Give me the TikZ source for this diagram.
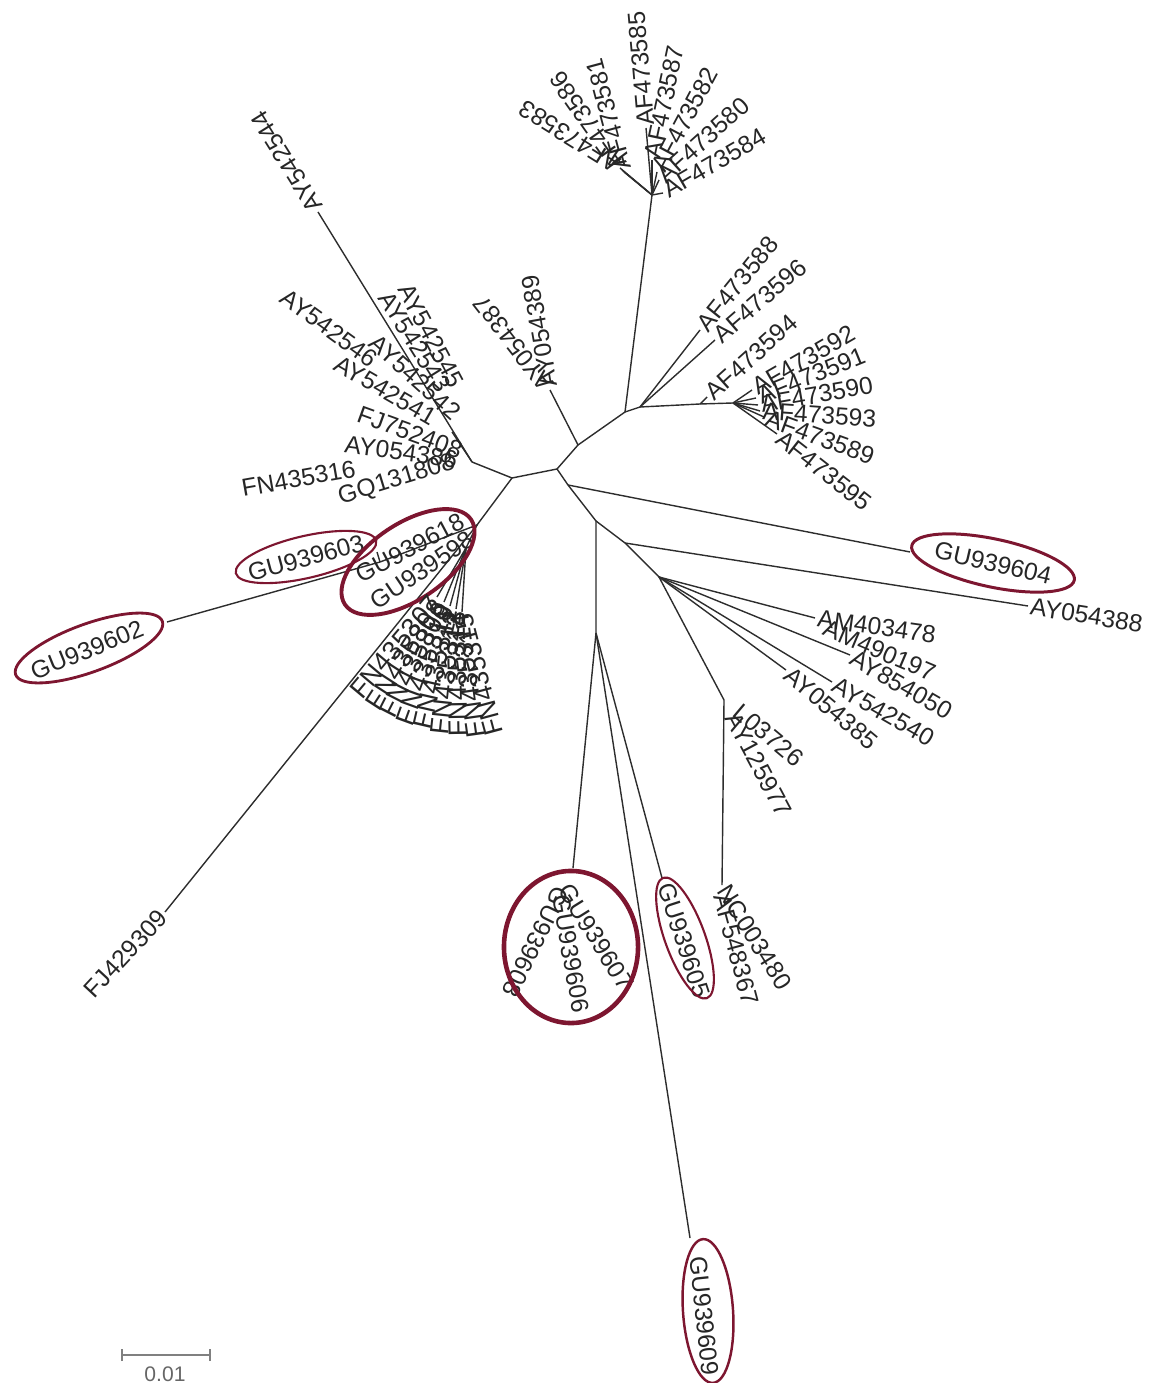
\documentclass[tikz,border=0pt]{standalone}
\usepackage{fontspec}
\setmainfont{Liberation Sans}
\usepackage{tikz}
\definecolor{wine}{RGB}{125,22,48}
\definecolor{treeline}{RGB}{45,45,45}
\tikzset{br/.style={draw=treeline,line width=0.4pt},
         lab/.style={font=\fontsize{7}{8}\selectfont,inner sep=0.6pt,text=black!85},
         fan/.style={lab,font=\fontsize{7.6}{8}\selectfont},
         ring/.style={draw=wine}}

\begin{document}
\begin{tikzpicture}[x=0.01cm,y=-0.01cm]
\useasboundingbox(0,0)rectangle(1158,1383);
%internal nodes
\coordinate(nA)at(557,469);\coordinate(nB)at(512,478);\coordinate(nC)at(578,445);
\coordinate(nD)at(625,412);\coordinate(nE)at(640,407);\coordinate(nF)at(700,404);
\coordinate(nG)at(733,403);\coordinate(nH)at(652,195);\coordinate(nK)at(568,485);
\coordinate(nJ)at(596,521);\coordinate(nM)at(625,543);\coordinate(nN)at(659,577);
\coordinate(nO)at(724,700);\coordinate(nL)at(596,633);\coordinate(nQ)at(472,462);
\coordinate(nS)at(452,432);\coordinate(nR)at(477,525);\coordinate(nT)at(380,562);
\coordinate(nU)at(466,548);
%leaves
\coordinate(l583)at(620,168);\coordinate(l586)at(622,170);\coordinate(l581)at(624,172);
\coordinate(l585)at(646,128);\coordinate(l587)at(652,160);\coordinate(l582)at(657,172);
\coordinate(l580)at(659,180);\coordinate(l584)at(663,193);
\coordinate(l588)at(700,330);\coordinate(l596)at(715,340);\coordinate(l594)at(707,397);
\coordinate(l592)at(752,390);\coordinate(l591)at(756,398);\coordinate(l590)at(758,405);
\coordinate(l593)at(760,411);\coordinate(l589)at(764,417);\coordinate(l595)at(777,434);
\coordinate(l389)at(550,390);
\coordinate(l604)at(910,552);\coordinate(l388)at(1028,606);\coordinate(l478)at(815,618);
\coordinate(l197)at(822,626);\coordinate(l050)at(850,655);\coordinate(l540)at(832,682);
\coordinate(l385)at(786,670);\coordinate(l726)at(735,707);\coordinate(l977)at(731,712);
\coordinate(l480)at(722,885);
\coordinate(l608)at(573,868);\coordinate(l605)at(662,878);\coordinate(l609)at(690,1238);
\coordinate(l309)at(165,912);\coordinate(l602)at(167,622);\coordinate(l603)at(377,552);
\coordinate(l544)at(318,212);
\coordinate(f1)at(437,597);\coordinate(f2)at(441,600);\coordinate(f3)at(444,602);
\coordinate(f4)at(447,604);\coordinate(f5)at(450,606);\coordinate(f6)at(453,608);
\coordinate(f7)at(456,609);\coordinate(f8)at(459,611);\coordinate(f9)at(462,612);
%branches
\draw[br](nQ)--(nB)--(nA)--(nC)--(nD)--(nH);
\draw[br](nD)--(nE)--(nF)--(nG);
\draw[br](nE)--(l588);\draw[br](nE)--(l596);\draw[br](nF)--(l594);
\draw[br](nG)--(l592);\draw[br](nG)--(l591);\draw[br](nG)--(l590);
\draw[br](nG)--(l593);\draw[br](nG)--(l589);\draw[br](nG)--(l595);
\draw[br](nH)--(l583);\draw[br](nH)--(l586);\draw[br](nH)--(l581);\draw[br](nH)--(l585);
\draw[br](nH)--(l587);\draw[br](nH)--(l582);\draw[br](nH)--(l580);\draw[br](nH)--(l584);
\draw[br](nC)--(l389);
\draw[br](nA)--(nK)--(nJ)--(nL);
\draw[br](nK)--(l604);
\draw[br](nJ)--(nM)--(nN)--(nO)--(l480);
\draw[br](nM)--(l388);
\draw[br](nN)--(l478);\draw[br](nN)--(l050);\draw[br](nN)--(l540);\draw[br](nN)--(l385);
\draw[br](nL)--(l608);\draw[br](nL)--(l605);\draw[br](nL)--(l609);
\draw[br](nB)--(nR)--(l309);
\draw[br](nR)--(nT)--(l602);\draw[br](nT)--(l603);
\draw[br](nR)--(nU);
\draw[br](nU)--(f1);\draw[br](nU)--(f3);\draw[br](nU)--(f5);\draw[br](nU)--(f7);\draw[br](nU)--(f9);
\draw[br](nQ)--(l544);\draw[br](nQ)--(nS);
%top cluster labels
\node[lab,anchor=west,rotate=148](t583)at(l583){AF473583};
\node[lab,anchor=west,rotate=125](t586)at(l586){AF473586};
\node[lab,anchor=west,rotate=105](t581)at(l581){AF473581};
\node[lab,anchor=west,rotate=95](t585)at(l585){AF473585};
\node[lab,anchor=west,rotate=78](t587)at(l587){AF473587};
\node[lab,anchor=west,rotate=62](t582)at(l582){AF473582};
\node[lab,anchor=west,rotate=42](t580)at(l580){AF473580};
\node[lab,anchor=west,rotate=30](t584)at(l584){AF473584};
%right cluster labels
\node[lab,anchor=west,rotate=51](t588)at(l588){AF473588};
\node[lab,anchor=west,rotate=41](t596)at(l596){AF473596};
\node[lab,anchor=west,rotate=42](t594)at(l594){AF473594};
\node[lab,anchor=west,rotate=30](t592)at(l592){AF473592};
\node[lab,anchor=west,rotate=22](t591)at(l591){AF473591};
\node[lab,anchor=west,rotate=10](t590)at(l590){AF473590};
\node[lab,anchor=west,rotate=-4](t593)at(l593){AF473593};
\node[lab,anchor=west,rotate=-20](t589)at(l589){AF473589};
\node[lab,anchor=west,rotate=-38](t595)at(l595){AF473595};
\node[lab,anchor=west,rotate=100](t389)at(l389){AY054389};
\node[lab,anchor=west,rotate=128](t387)at(l389){AY054387};
%lower right labels
\node[lab,rotate=-13](t604)at(993,563){GU939604};
\draw[ring,line width=0.85pt,rotate around={-12:(993,563)}](993,563)ellipse[x radius=8.3mm,y radius=2.4mm];
\node[lab,anchor=west,rotate=-9](t388)at(l388){AY054388};
\node[lab,anchor=west,rotate=-8](t478)at(l478){AM403478};
\node[lab,anchor=west,rotate=-23](t197)at(l197){AM490197};
\node[lab,anchor=west,rotate=-30](t050)at(l050){AY854050};
\node[lab,anchor=west,rotate=-30](t540)at(l540){AY542540};
\node[lab,anchor=west,rotate=-40](t385)at(l385){AY054385};
\node[lab,anchor=west,rotate=-40](t726)at(l726){L03726};
\node[lab,anchor=west,rotate=-62](t977)at(l977){AY125977};
\node[lab,anchor=west,rotate=-58](t480)at(l480){NC003480};
\node[lab,anchor=west,rotate=-75](t367)at(721,892){AF548367};
%bottom labels
\node[lab,anchor=west,rotate=-58](t607)at(563,884){GU939607};
\node[lab,anchor=west,rotate=-80](t606)at(560,892){GU939606};
\node[lab,anchor=west,rotate=-116](t608)at(563,886){GU939608};
\draw[ring,line width=1.3pt](571,947)ellipse[x radius=6.7mm,y radius=7.6mm];
\node[lab,rotate=-72](t605)at(684,940){GU939605};
\draw[ring,line width=0.6pt,rotate around={-70:(685,938)}](685,938)ellipse[x radius=6.4mm,y radius=2.0mm];
\node[lab,rotate=-84](t609)at(704,1316){GU939609};
\draw[ring,line width=0.7pt,rotate around={-86:(708,1311)}](708,1311)ellipse[x radius=7.2mm,y radius=2.5mm];
%left labels
\node[lab,anchor=east,rotate=47](t309)at(l309){FJ429309};
\node[lab,rotate=22](t602)at(87,650){GU939602};
\draw[ring,line width=0.8pt,rotate around={20:(89,648)}](89,648)ellipse[x radius=7.8mm,y radius=2.4mm];
\node[lab,rotate=15](t603)at(306,558){GU939603};
\draw[ring,line width=0.6pt,rotate around={13:(306,557)}](306,557)ellipse[x radius=7.2mm,y radius=2.1mm];
\node[lab,rotate=28](t618)at(410,548){GU939618};
\node[lab,rotate=34](t598)at(422,570){GU939598};
\draw[ring,line width=1.1pt,rotate around={34:(408,562)}](408,562)ellipse[x radius=7.6mm,y radius=3.8mm];
%fan
\node[fan,anchor=east,rotate=50](g1)at(f1){FN435307};
\node[fan,anchor=east,rotate=57](g2)at(f2){FN435308};
\node[fan,anchor=east,rotate=63](g3)at(f3){FN435309};
\node[fan,anchor=east,rotate=70](g4)at(f4){FN435310};
\node[fan,anchor=east,rotate=77](g5)at(f5){FN435311};
\node[fan,anchor=east,rotate=84](g6)at(f6){FN435312};
\node[fan,anchor=east,rotate=91](g7)at(f7){FN435313};
\node[fan,anchor=east,rotate=98](g8)at(f8){FN435314};
\node[fan,anchor=east,rotate=105](g9)at(f9){FN435315};
%upper left labels
\node[lab,anchor=west,rotate=122](t544)at(l544){AY542544};
\node[lab,anchor=east,rotate=-36](t546)at(377,363){AY542546};
\node[lab,anchor=east,rotate=-62](t545)at(459,388){AY542545};
\node[lab,anchor=east,rotate=-58](t543)at(446,392){AY542543};
\node[lab,anchor=east,rotate=-42](t542)at(459,417){AY542542};
\node[lab,anchor=east,rotate=-30](t541)at(437,420){AY542541};
\node[lab,anchor=east,rotate=-20](t408)at(464,452){FJ752408};
\node[lab,anchor=east,rotate=-8](t386)at(460,460){AY054386};
\node[lab,anchor=east,rotate=10](t316)at(358,468){FN435316};
\node[lab,anchor=east,rotate=17](t808)at(457,462){GQ131808};
%scale bar
\coordinate(sb1)at(122,1355);\coordinate(sb2)at(210,1355);
\draw[gray,line width=0.6pt](sb1)--(sb2);
\draw[gray,line width=0.8pt]([yshift=-0.6mm]sb1)--([yshift=0.6mm]sb1);
\draw[gray,line width=0.8pt]([yshift=-0.6mm]sb2)--([yshift=0.6mm]sb2);
\node[font=\fontsize{6}{7}\selectfont,text=gray!80!black](sbl)at(165,1374){0.01};
\end{tikzpicture}
\end{document}
